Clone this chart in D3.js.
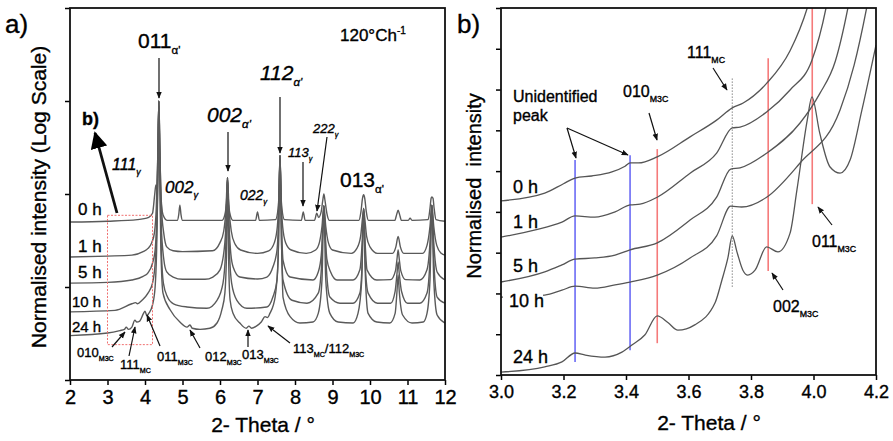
<!DOCTYPE html>
<html>
<head>
<meta charset="utf-8">
<script src="https://cdn.jsdelivr.net/npm/d3@7"></script>
<style>
  body { margin: 0; background: #fff; }
  text { font-family: "Liberation Sans", Arial, sans-serif; fill: #000; stroke: #000; stroke-width: 0.35px; }
</style>
</head>
<body>
<svg id="chart" width="893" height="441"></svg>
<script>
// ---------- panel a : full patterns, log intensity ----------
const ticksA = [2, 3, 4, 5, 6, 7, 8, 9, 10, 11, 12];
const decadesA = [0.001, 0.01, 0.1, 1, 10];
const timesA = ["0 h", "1 h", "5 h", "10 h", "24 h"];

const a0h = [[2.0,0.05],[3.0,0.051],[3.8,0.053],[4.1,0.056],[4.2,0.062],[4.26,0.1],[4.29,0.125],[4.32,0.11],[4.345,0.3],[4.37,1.0],[4.395,0.3],[4.43,0.09],[4.48,0.06],[4.6,0.052],[4.86,0.052],[4.9,0.06],[4.93,0.076],[4.96,0.06],[5.0,0.052],[6.05,0.052],[6.13,0.06],[6.175,0.085],[6.2,0.15],[6.225,0.085],[6.27,0.06],[6.35,0.052],[6.95,0.052],[7.0,0.064],[7.05,0.052],[7.48,0.053],[7.55,0.07],[7.58,0.12],[7.6,0.26],[7.62,0.12],[7.65,0.07],[7.72,0.053],[8.17,0.052],[8.22,0.064],[8.27,0.052],[8.52,0.052],[8.58,0.062],[8.63,0.056],[8.7,0.065],[8.74,0.085],[8.77,0.1],[8.8,0.085],[8.85,0.062],[8.92,0.052],[9.7,0.052],[9.76,0.065],[9.8,0.09],[9.83,0.098],[9.86,0.09],[9.9,0.065],[9.96,0.052],[10.66,0.052],[10.71,0.06],[10.75,0.067],[10.79,0.06],[10.84,0.052],[11.02,0.052],[11.07,0.055],[11.12,0.052],[11.55,0.053],[11.6,0.07],[11.63,0.09],[11.65,0.093],[11.68,0.09],[11.71,0.07],[11.76,0.053],[12.0,0.051]];
const a1h = [[2.0,0.021],[3.0,0.0215],[3.65,0.022],[3.95,0.024],[4.08,0.026],[4.18,0.03],[4.25,0.038],[4.3,0.07],[4.34,0.25],[4.37,1.0],[4.4,0.25],[4.44,0.07],[4.5,0.038],[4.58,0.027],[4.75,0.0245],[5.0,0.024],[5.8,0.0245],[6.0,0.03],[6.1,0.04],[6.16,0.07],[6.2,0.15],[6.24,0.07],[6.3,0.04],[6.4,0.029],[6.55,0.025],[7.0,0.023],[7.3,0.0245],[7.45,0.03],[7.53,0.045],[7.57,0.09],[7.6,0.26],[7.63,0.09],[7.67,0.045],[7.75,0.03],[7.9,0.025],[8.3,0.023],[8.55,0.025],[8.65,0.03],[8.72,0.045],[8.77,0.075],[8.82,0.045],[8.89,0.03],[9.0,0.025],[9.5,0.023],[9.65,0.026],[9.75,0.035],[9.8,0.055],[9.83,0.07],[9.86,0.055],[9.91,0.035],[10.0,0.027],[10.2,0.023],[10.6,0.023],[10.69,0.027],[10.75,0.035],[10.81,0.027],[10.9,0.023],[11.4,0.023],[11.52,0.028],[11.6,0.045],[11.65,0.076],[11.7,0.045],[11.78,0.028],[11.9,0.023],[12.0,0.022]];
const a5h = [[2.0,0.011],[3.0,0.0112],[3.65,0.0119],[3.95,0.013],[4.08,0.0142],[4.2,0.018],[4.27,0.025],[4.31,0.05],[4.345,0.25],[4.37,1.0],[4.395,0.25],[4.43,0.05],[4.5,0.02],[4.58,0.0145],[4.75,0.0128],[5.0,0.0121],[5.6,0.0121],[5.81,0.0128],[6.0,0.0153],[6.13,0.03],[6.17,0.06],[6.2,0.15],[6.23,0.06],[6.28,0.025],[6.35,0.0164],[6.53,0.0128],[7.0,0.0122],[7.25,0.0128],[7.41,0.0164],[7.52,0.025],[7.57,0.07],[7.6,0.26],[7.63,0.07],[7.68,0.0195],[7.87,0.0128],[8.48,0.0119],[8.62,0.0145],[8.7,0.022],[8.74,0.04],[8.77,0.075],[8.8,0.04],[8.85,0.02],[8.95,0.0145],[9.12,0.0119],[9.55,0.0119],[9.73,0.0153],[9.79,0.03],[9.83,0.07],[9.87,0.03],[9.92,0.0153],[10.18,0.0119],[10.55,0.012],[10.68,0.015],[10.72,0.02],[10.75,0.025],[10.78,0.02],[10.82,0.015],[10.95,0.012],[11.33,0.0119],[11.52,0.0153],[11.6,0.03],[11.65,0.076],[11.7,0.03],[11.79,0.0145],[12.0,0.0119]];
const a10h = [[2.0,0.0054],[3.2,0.0056],[3.65,0.0066],[3.75,0.0068],[3.8,0.0066],[3.92,0.0072],[4.08,0.0086],[4.2,0.011],[4.27,0.018],[4.32,0.05],[4.35,0.25],[4.37,1.0],[4.39,0.25],[4.43,0.03],[4.49,0.011],[4.6,0.0078],[4.76,0.0066],[5.12,0.0061],[5.65,0.0059],[5.92,0.0072],[6.08,0.011],[6.15,0.025],[6.2,0.15],[6.25,0.025],[6.31,0.011],[6.45,0.0072],[6.72,0.0059],[7.25,0.0061],[7.41,0.0078],[7.52,0.0119],[7.56,0.03],[7.6,0.26],[7.64,0.03],[7.68,0.0119],[7.92,0.0072],[8.32,0.0067],[8.62,0.0086],[8.7,0.015],[8.77,0.075],[8.84,0.015],[8.93,0.0078],[9.2,0.0067],[9.55,0.0067],[9.73,0.0086],[9.79,0.018],[9.83,0.07],[9.87,0.018],[9.95,0.0086],[10.2,0.0067],[10.55,0.0067],[10.67,0.009],[10.72,0.014],[10.75,0.0186],[10.78,0.014],[10.84,0.009],[11.0,0.0067],[11.33,0.0067],[11.52,0.0086],[11.6,0.02],[11.65,0.076],[11.7,0.02],[11.79,0.0078],[12.0,0.0067]];
const a24h = [[2.0,0.003],[3.0,0.0032],[3.33,0.0034],[3.45,0.0035],[3.5,0.0037],[3.56,0.0035],[3.65,0.0037],[3.73,0.0044],[3.78,0.0042],[3.86,0.0043],[3.96,0.0052],[4.0,0.0055],[4.05,0.0049],[4.1,0.0052],[4.2,0.0064],[4.27,0.01],[4.31,0.025],[4.345,0.15],[4.37,1.0],[4.395,0.15],[4.42,0.03],[4.48,0.0086],[4.67,0.0057],[4.93,0.0042],[5.12,0.0037],[5.2,0.0039],[5.26,0.0036],[5.47,0.0035],[5.73,0.0036],[5.92,0.0041],[6.05,0.0057],[6.13,0.0086],[6.17,0.02],[6.2,0.15],[6.23,0.02],[6.27,0.0072],[6.35,0.0052],[6.53,0.0041],[6.7,0.0036],[6.77,0.0038],[6.84,0.0036],[6.97,0.0038],[7.1,0.0042],[7.2,0.0048],[7.27,0.0047],[7.33,0.0052],[7.47,0.0078],[7.55,0.02],[7.6,0.26],[7.65,0.02],[7.68,0.0078],[7.87,0.0048],[8.13,0.0041],[8.48,0.0042],[8.62,0.0052],[8.72,0.012],[8.77,0.075],[8.82,0.012],[8.93,0.0052],[9.15,0.0042],[9.55,0.0041],[9.68,0.0052],[9.78,0.012],[9.83,0.07],[9.88,0.012],[9.95,0.0052],[10.18,0.0042],[10.53,0.0041],[10.67,0.0052],[10.72,0.009],[10.75,0.0135],[10.78,0.009],[10.87,0.005],[11.12,0.0041],[11.42,0.0042],[11.52,0.0052],[11.6,0.012],[11.65,0.076],[11.7,0.012],[11.79,0.005],[12.0,0.0041]];
const seriesA = [a0h, a1h, a5h, a10h, a24h];
const zoomBox = { x0: 3.0, x1: 4.2, y0: 0.0024, y1: 0.059 };

// ---------- panel b : zoom 3.0 - 4.2 ----------
const ticksB = [3.0, 3.2, 3.4, 3.6, 3.8, 4.0, 4.2];
const levelsB = [0, 1, 2, 3, 4, 5, 6, 7, 8, 9];
const timesB = ["0 h", "1 h", "5 h", "10 h", "24 h"];

const b0h = [[3.0,4.27],[3.14,4.46],[3.2,4.69],[3.237,4.83],[3.29,4.88],[3.355,4.98],[3.397,5.12],[3.413,5.2],[3.44,5.2],[3.5,5.35],[3.605,5.84],[3.69,6.25],[3.74,6.55],[3.775,6.67],[3.85,7.15],[3.925,7.95],[3.98,9.0],[3.995,9.4]];
const b1h = [[3.0,3.38],[3.11,3.56],[3.195,3.75],[3.237,3.9],[3.3,3.87],[3.365,4.0],[3.413,4.17],[3.445,4.19],[3.5,4.36],[3.605,4.95],[3.69,5.44],[3.74,6.06],[3.765,6.08],[3.85,6.45],[3.925,6.99],[3.995,7.72],[4.04,9.0],[4.05,9.4]];
const b5h = [[3.0,2.28],[3.14,2.53],[3.195,2.7],[3.237,2.84],[3.3,2.87],[3.365,2.94],[3.413,3.07],[3.5,3.24],[3.605,3.8],[3.69,4.36],[3.735,5.05],[3.765,5.08],[3.85,5.44],[3.957,6.18],[4.02,6.9],[4.07,7.7],[4.11,9.0],[4.12,9.4]];
const b10h = [[3.0,1.91],[3.14,1.96],[3.195,2.08],[3.237,2.18],[3.3,2.13],[3.365,2.21],[3.413,2.28],[3.5,2.45],[3.605,2.87],[3.69,3.41],[3.735,4.14],[3.77,4.12],[3.85,4.36],[3.957,5.2],[4.085,6.5],[4.13,7.6],[4.17,9.0],[4.18,9.4]];
const b24h = [[3.0,0.07],[3.14,0.2],[3.195,0.32],[3.237,0.54],[3.27,0.49],[3.333,0.44],[3.387,0.56],[3.42,0.74],[3.46,0.98],[3.5,1.45],[3.535,1.28],[3.566,1.1],[3.62,1.23],[3.685,1.77],[3.707,2.33],[3.726,2.87],[3.74,3.41],[3.755,3.02],[3.774,2.57],[3.79,2.45],[3.813,2.57],[3.85,3.14],[3.886,3.02],[3.925,3.48],[3.947,4.54],[3.98,6.25],[3.995,6.82],[4.02,5.93],[4.053,5.1],[4.085,4.95],[4.117,5.27],[4.155,6.5],[4.2,8.09]];
const seriesB = [b0h, b1h, b5h, b10h, b24h];

// marker lines: position, bottom, top, kind
const markerLinesB = [
  [3.237, 0.32, 5.27, "blue"],
  [3.413, 0.61, 5.39, "blue"],
  [3.5, 0.78, 5.54, "red"],
  [3.74, 2.16, 7.28, "dot"],
  [3.855, 2.55, 7.77, "red"],
  [3.996, 4.19, 9.0, "red"]
];

const svg = d3.select("#chart");
const font = '"Liberation Sans", Arial, sans-serif';

const xA = d3.scaleLinear().domain([2, 12]).range([70, 445]);
const yA = d3.scaleLog().domain([0.001, 10]).range([380, 8]);
const xB = d3.scaleLinear().domain([3.0, 4.2]).range([501, 876]);
const yB = d3.scaleLinear().domain([0, 9]).range([375, 8]);

const defs = svg.append("defs");
function clip(id, x, y, w, h) {
  defs.append("clipPath").attr("id", id)
    .append("rect").attr("x", x).attr("y", y).attr("width", w).attr("height", h);
}
clip("clipA", 70, 8, 375, 372);
clip("clipB", 501, 8, 375, 367);

defs.append("marker").attr("id", "head").attr("viewBox", "0 0 10 10")
  .attr("refX", 9).attr("refY", 5).attr("markerWidth", 7).attr("markerHeight", 7)
  .attr("markerUnits", "userSpaceOnUse").attr("orient", "auto")
  .append("path").attr("d", "M0,1 L10,5 L0,9 z").attr("fill", "#111");
defs.append("marker").attr("id", "bighead").attr("viewBox", "0 0 10 10")
  .attr("refX", 9).attr("refY", 5).attr("markerWidth", 17).attr("markerHeight", 17)
  .attr("markerUnits", "userSpaceOnUse").attr("orient", "auto")
  .append("path").attr("d", "M0,0 L10,5 L0,10 z").attr("fill", "#000");

// ---- curves ----
const lineA = d3.line().x(d => xA(d[0])).y(d => yA(d[1])).curve(d3.curveMonotoneX);
const lineB = d3.line().x(d => xB(d[0])).y(d => yB(d[1])).curve(d3.curveMonotoneX);

svg.append("g").attr("clip-path", "url(#clipA)")
  .selectAll("path").data(seriesA).join("path")
  .attr("d", lineA).attr("fill", "none")
  .attr("stroke", "#5a5a5a").attr("stroke-width", 1.4);

svg.append("rect")
  .attr("x", xA(zoomBox.x0)).attr("y", yA(zoomBox.y1))
  .attr("width", xA(zoomBox.x1) - xA(zoomBox.x0))
  .attr("height", yA(zoomBox.y0) - yA(zoomBox.y1))
  .attr("fill", "none").attr("stroke", "#f07070").attr("stroke-width", 1)
  .attr("stroke-dasharray", "2,1.5");

const gB = svg.append("g").attr("clip-path", "url(#clipB)");
gB.selectAll("line").data(markerLinesB).join("line")
  .attr("x1", d => xB(d[0])).attr("x2", d => xB(d[0]))
  .attr("y1", d => yB(d[1])).attr("y2", d => yB(d[2]))
  .attr("stroke", d => d[3] === "blue" ? "#6b6bf5" : d[3] === "red" ? "#f57a7a" : "#888")
  .attr("stroke-width", d => d[3] === "dot" ? 1 : 1.6)
  .attr("stroke-dasharray", d => d[3] === "dot" ? "1.5,1.5" : null);
gB.selectAll("path").data(seriesB).join("path")
  .attr("d", lineB).attr("fill", "none")
  .attr("stroke", "#555").attr("stroke-width", 1.3);

// ---- axes & frames ----
function styleAxis(g, size) {
  g.select(".domain").remove();
  g.selectAll(".tick line").attr("stroke", "#000").attr("stroke-width", 1.5);
  g.selectAll(".tick text").attr("font-size", size).attr("font-family", font).attr("fill", "#000");
}
svg.append("g").attr("transform", "translate(0,380)")
  .call(d3.axisBottom(xA).tickValues(ticksA).tickFormat(d3.format("d")).tickSize(5).tickPadding(5))
  .call(g => styleAxis(g, 20));
svg.append("g").attr("transform", "translate(70,0)")
  .call(d3.axisLeft(yA).tickValues(decadesA).tickFormat("").tickSize(5))
  .call(g => styleAxis(g, 12));
svg.append("g").attr("transform", "translate(0,375)")
  .call(d3.axisBottom(xB).tickValues(ticksB).tickFormat(d3.format(".1f")).tickSize(5).tickPadding(5))
  .call(g => styleAxis(g, 18));
svg.append("g").attr("transform", "translate(501,0)")
  .call(d3.axisLeft(yB).tickValues(levelsB).tickFormat("").tickSize(5))
  .call(g => styleAxis(g, 12));

svg.append("rect").attr("x", 70).attr("y", 8).attr("width", 375).attr("height", 372)
  .attr("fill", "none").attr("stroke", "#111").attr("stroke-width", 1.8);
svg.append("rect").attr("x", 501).attr("y", 8).attr("width", 375).attr("height", 367)
  .attr("fill", "none").attr("stroke", "#111").attr("stroke-width", 1.8);

// ---- text helpers ----
function label(x, y, size, main, sub, opt = {}) {
  const t = svg.append("text").attr("x", x).attr("y", y).attr("font-size", size)
    .attr("font-style", opt.italic ? "italic" : null)
    .attr("font-weight", opt.bold ? "bold" : null);
  t.append("tspan").text(main);
  if (sub) t.append("tspan").attr("font-size", size * 0.55).attr("dy", size * 0.3).text(sub);
  if (opt.more) {
    t.append("tspan").attr("dy", -size * 0.3).text(opt.more[0]);
    t.append("tspan").attr("font-size", size * 0.55).attr("dy", size * 0.3).text(opt.more[1]);
  }
  return t;
}
function arrow(p, q, big) {
  svg.append("line").attr("x1", p[0]).attr("y1", p[1]).attr("x2", q[0]).attr("y2", q[1])
    .attr("stroke", "#111").attr("stroke-width", big ? 2.8 : 1.2)
    .attr("marker-end", big ? "url(#bighead)" : "url(#head)");
}

// panel a annotations
label(5, 33, 26, "a)");
label(138, 48, 21, "011", "α'");
const ch = label(340, 41, 17, "120°Ch");
ch.append("tspan").attr("font-size", 10).attr("dy", -7).text("-1");
label(207, 122, 21, "002", "α'", { italic: true });
label(260, 80, 21, "112", "α'", { italic: true });
label(82, 125, 18, "b)", null, { bold: true });
label(112, 170, 16, "111", "γ", { italic: true });
label(165, 193, 17, "002", "γ", { italic: true });
label(240, 200, 14, "022", "γ", { italic: true });
label(288, 157, 13, "113", "γ", { italic: true });
label(313, 133, 13, "222", "γ", { italic: true });
label(340, 187, 21, "013", "α'");
const yLabA = [215, 252, 278, 307, 332];
timesA.forEach((t, i) => label(i < 3 ? 78 : 72, yLabA[i], i < 3 ? 17 : 15, t));
label(77, 357, 13, "010", "M3C");
label(120, 369, 13, "111", "MC");
label(157, 361, 13, "011", "M3C");
label(205, 361, 13, "012", "M3C");
label(242, 359, 13, "013", "M3C");
label(293, 353, 13, "113", "MC", { more: ["/112", "M3C"] });

arrow([159, 58], [159, 98]);
arrow([228, 132], [228, 171]);
arrow([280, 97], [280, 153]);
arrow([303, 162], [303, 206]);
arrow([327, 137], [317, 211]);
arrow([112, 347], [125, 332]);
arrow([129, 356], [135, 327]);
arrow([160, 346], [147, 315]);
arrow([200, 348], [190, 330]);
arrow([248, 347], [248, 330]);
arrow([290, 343], [268, 326]);
arrow([117, 213], [95, 133], true);

// panel b annotations
label(457, 33, 26, "b)");
label(513, 102, 16, "Unidentified");
label(513, 121, 16, "peak");
label(623, 97, 16, "010", "M3C");
label(687, 58, 16, "111", "MC");
label(812, 247, 16, "011", "M3C");
label(773, 312, 16, "002", "M3C");
const yLabB = [193, 228, 272, 307, 363];
// white patch under the "10 h" label, the curve is hidden there in the original
svg.append("rect").attr("x", 503).attr("y", yLabB[3] - 13).attr("width", 40).attr("height", 16).attr("fill", "#fff");
timesB.forEach((t, i) => label(i === 3 ? 509 : 513, yLabB[i], 18, t));

arrow([567, 128], [576, 158]);
arrow([567, 128], [628, 155]);
arrow([649, 113], [657, 140]);
arrow([713, 68], [727, 90]);
arrow([832, 225], [818, 207]);
arrow([783, 290], [772, 273]);

// axis titles
svg.append("text").attr("x", 263).attr("y", 432).attr("text-anchor", "middle")
  .attr("font-size", 21).text("2- Theta / °");
svg.append("text").attr("x", 709).attr("y", 430).attr("text-anchor", "middle")
  .attr("font-size", 21).text("2- Theta / °");
svg.append("text").attr("transform", "translate(46,197) rotate(-90)").attr("text-anchor", "middle")
  .attr("font-size", 21).text("Normalised intensity (Log Scale)");
svg.append("text").attr("transform", "translate(481,186) rotate(-90)").attr("text-anchor", "middle")
  .attr("font-size", 20).text("Normalised  intensity").attr("xml:space", "preserve");
</script>
</body>
</html>
